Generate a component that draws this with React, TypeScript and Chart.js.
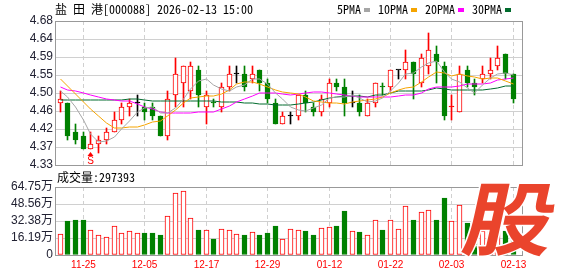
import React, { useEffect, useRef } from 'react';
import { Chart, LinearScale, registerables } from 'chart.js';

Chart.register(...registerables);

// linear scale that snaps pixels so 1px strokes stay crisp
class PixelLinearScale extends (LinearScale as any) {
  getPixelForValue(value: number) {
    const p = super.getPixelForValue(value);
    const off = this.axis === 'x' ? 0.5 : 0;
    return Math.round(p - off) + off;
  }
}
(PixelLinearScale as any).id = 'pixelLinear';
(PixelLinearScale as any).defaults = (LinearScale as any).defaults;
Chart.register(PixelLinearScale as any);

const title = '盐 田 港[000088] 2026-02-13 15:00';
const volumeTitle = '成交量:297393';

const dates = ['11-20','11-21','11-24','11-25','11-26','11-27','11-28','12-01','12-02','12-03','12-04','12-05','12-08','12-09','12-10','12-11','12-12','12-15','12-16','12-17','12-18','12-19','12-22','12-23','12-24','12-25','12-26','12-29','12-30','12-31','01-05','01-06','01-07','01-08','01-09','01-12','01-13','01-14','01-15','01-16','01-19','01-20','01-21','01-22','01-23','01-26','01-27','01-28','01-29','01-30','02-02','02-03','02-04','02-05','02-06','02-09','02-10','02-11','02-12','02-13'];

const opens = [4.48,4.48,4.41,4.40,4.37,4.38,4.39,4.41,4.44,4.47, 4.48,4.47,4.47,4.45,4.40,4.50,4.53,4.51,4.56,4.47, 4.48,4.47,4.52,4.55,4.55,4.54,4.56,4.53,4.48,4.43, 4.45,4.45,4.50,4.47,4.46,4.48,4.53,4.52,4.48,4.48, 4.45,4.48,4.52,4.52,4.56,4.56,4.58,4.53,4.57,4.60, 4.57,4.47,4.46,4.56,4.53,4.54,4.55,4.57,4.60,4.55];
const highs = [4.51,4.48,4.43,4.41,4.41,4.40,4.42,4.46,4.48,4.49, 4.50,4.48,4.48,4.45,4.51,4.59,4.57,4.58,4.57,4.51, 4.49,4.53,4.57,4.57,4.57,4.57,4.56,4.54,4.49,4.46, 4.46,4.50,4.51,4.48,4.50,4.54,4.54,4.54,4.51,4.50, 4.49,4.53,4.53,4.56,4.56,4.61,4.58,4.60,4.65,4.62, 4.58,4.50,4.57,4.57,4.54,4.57,4.59,4.62,4.60,4.55];
const lows = [4.46,4.39,4.38,4.37,4.37,4.36,4.38,4.41,4.43,4.45, 4.45,4.44,4.44,4.40,4.39,4.47,4.47,4.49,4.47,4.43, 4.47,4.46,4.51,4.53,4.51,4.53,4.51,4.48,4.43,4.43, 4.43,4.44,4.46,4.45,4.45,4.47,4.51,4.45,4.47,4.45, 4.45,4.47,4.50,4.51,4.54,4.54,4.49,4.52,4.55,4.53, 4.44,4.44,4.46,4.52,4.50,4.53,4.54,4.56,4.54,4.48];
const closes = [4.49,4.40,4.39,4.37,4.38,4.39,4.41,4.44,4.47,4.48, 4.48,4.46,4.45,4.40,4.49,4.55,4.57,4.57,4.50,4.50, 4.48,4.52,4.55,4.55,4.52,4.55,4.53,4.49,4.43,4.45, 4.45,4.50,4.48,4.46,4.49,4.53,4.52,4.48,4.48,4.46, 4.48,4.53,4.52,4.56,4.56,4.58,4.55,4.59,4.61,4.58, 4.45,4.47,4.55,4.53,4.52,4.55,4.56,4.59,4.55,4.49];

const volumes = [200000,325000,334000,334000,236000,187000,171000,274000,207000,226000, 207000,210000,210000,190000,371000,593000,613000,352000,239000,236000, 152000,245000,236000,197000,190000,216000,190000,210000,277000,152000, 245000,236000,229000,190000,255000,265000,277000,422000,226000,216000, 187000,332000,236000,332000,245000,468000,335000,410000,429000,335000, 538000,323000,477000,306000,250000,229000,260000,300000,229000,297393];

const ma5 = [4.511,4.495,4.47,4.44,4.406,4.386,4.388,4.398,4.418,4.438, 4.458,4.468,4.47,4.456,4.456,4.468,4.49,4.514,4.534,4.538, 4.524,4.514,4.51,4.52,4.524,4.538,4.54,4.528,4.504,4.49, 4.47,4.464,4.462,4.468,4.476,4.492,4.496,4.496,4.50,4.494, 4.484,4.486,4.494,4.51,4.53,4.55,4.554,4.568,4.578,4.582, 4.556,4.54,4.532,4.516,4.504,4.524,4.542,4.55,4.554,4.548];
const ma10 = [4.54,4.521,4.503,4.482,4.466,4.448,4.432,4.42,4.42,4.422, 4.422,4.428,4.434,4.437,4.448,4.464,4.48,4.493,4.496,4.497, 4.497,4.503,4.513,4.528,4.531,4.531,4.527,4.519,4.512,4.507, 4.504,4.502,4.495,4.486,4.483,4.481,4.48,4.479,4.484,4.485, 4.488,4.491,4.495,4.505,4.512,4.517,4.52,4.531,4.544,4.556, 4.553,4.547,4.55,4.547,4.543,4.54,4.541,4.541,4.535,4.526];
const ma20 = [4.52,4.513,4.511,4.505,4.50,4.495,4.49,4.487,4.485,4.485, 4.479,4.471,4.466,4.46,4.456,4.456,4.456,4.457,4.458,4.46, 4.46,4.466,4.474,4.483,4.49,4.498,4.504,4.506,4.504,4.502, 4.50,4.502,4.504,4.507,4.507,4.506,4.503,4.499,4.498,4.496, 4.496,4.496,4.495,4.495,4.497,4.499,4.50,4.505,4.514,4.52, 4.52,4.519,4.522,4.526,4.527,4.528,4.53,4.536,4.539,4.541];
const ma30 = [4.487,4.487,4.487,4.487,4.487,4.487,4.487,4.487,4.488,4.49, 4.49,4.487,4.486,4.486,4.486,4.486,4.486,4.486,4.486,4.486, 4.485,4.484,4.483,4.482,4.481,4.48,4.479,4.478,4.477,4.476, 4.475,4.478,4.481,4.484,4.488,4.492,4.496,4.497,4.498,4.497, 4.496,4.499,4.501,4.506,4.509,4.51,4.509,4.51,4.513,4.516, 4.515,4.513,4.513,4.513,4.513,4.513,4.514,4.517,4.521,4.522];

const maNames = ['5PMA', '10PMA', '20PMA', '30PMA'];
const maSeries = [ma5, ma10, ma20, ma30];
const maColors = ['#a6a6a6', '#f5a400', '#ff00ff', '#006b2d'];

const priceTickValues = [4.33, 4.37375, 4.4175, 4.46125, 4.505, 4.54875, 4.5925, 4.63625, 4.68];
const priceTickLabels = ['4.33', '4.37', '4.42', '4.46', '4.50', '4.55', '4.59', '4.64', '4.68'];
const volTickValues = [0, 161875, 323750, 485625, 647500];
const volTickLabels = ['0', '16.19万', '32.38万', '48.56万', '64.75万'];
const dateTickIndex = [3, 11, 19, 27, 35, 43, 51, 59];
const signals = [{ index: 4, label: 'S' }];

const RED = '#ff0000';
const GREEN = '#008000';
const BLACK = '#000000';
const GRID = '#d0d0d0';
const FRAME = '#999999';
const LABEL = '#222233';
const MONO = "12px 'Noto Sans Mono CJK SC', 'Noto Sans CJK SC', monospace";
const AXISFONT = "'Liberation Sans', 'Noto Sans CJK SC', sans-serif";
const X_MIN = -0.555;
const X_MAX = 60.13;

function candleColor(i: number) {
  const o = opens[i], c = closes[i];
  if (c > o) return RED;
  if (c < o) return GREEN;
  const p = i > 0 ? closes[i - 1] : c;
  if (c > p) return RED;
  if (c < p) return GREEN;
  return BLACK;
}
function volumeColor(i: number) {
  const o = opens[i], c = closes[i];
  if (c > o) return RED;
  if (c < o) return GREEN;
  const p = i > 0 ? closes[i - 1] : c;
  return c < p ? GREEN : RED;
}

function xScaleBase(showLabels: boolean, height: number) {
  return {
    type: 'pixelLinear',
    min: X_MIN,
    max: X_MAX,
    offset: false,
    afterBuildTicks: (s: any) => { s.ticks = dateTickIndex.map((v) => ({ value: v })); },
    afterFit: (s: any) => { s.height = height; },
    grid: { color: GRID, drawTicks: false, lineWidth: 1, offset: false },
    border: { display: false, dash: [4, 3] },
    ticks: {
      display: showLabels,
      autoSkip: false,
      maxRotation: 0,
      padding: 4,
      color: RED,
      font: { family: AXISFONT, size: 10 },
      callback: (v: any) => dates[v] ?? '',
    },
  };
}

function drawFrame(chart: any) {
  const { ctx, chartArea: a } = chart;
  ctx.save();
  ctx.strokeStyle = FRAME;
  ctx.lineWidth = 1;
  ctx.strokeRect(a.left - 0.5, a.top + 0.5, a.right - a.left + 1, a.bottom - a.top);
  ctx.restore();
}

const priceDecor = {
  id: 'priceDecor',
  afterDraw(chart: any) {
    const ctx = chart.ctx;
    drawFrame(chart);
    ctx.save();
    ctx.fillStyle = '#000';
    ctx.font = MONO;
    ctx.textBaseline = 'middle';
    ctx.textAlign = 'left';
    ctx.fillText(title, 55, 9.5);
    // legend
    let x = 337;
    maNames.forEach((name, k) => {
      ctx.fillStyle = '#000';
      ctx.fillText(name, x, 9.5);
      const w = ctx.measureText(name).width;
      ctx.fillStyle = maColors[k];
      ctx.fillRect(Math.round(x + w + 3), 8, 6, 4);
      x = Math.round(x + w + 3 + 6 + 8);
    });
    // signals
    const xs = chart.scales.x, ys = chart.scales.y;
    signals.forEach((s) => {
      const cx = xs.getPixelForValue(s.index);
      const yl = ys.getPixelForValue(lows[s.index]);
      ctx.fillStyle = RED;
      ctx.beginPath();
      ctx.moveTo(cx, yl + 3);
      ctx.lineTo(cx - 3, yl + 7);
      ctx.lineTo(cx + 3, yl + 7);
      ctx.closePath();
      ctx.fill();
      ctx.font = `10px ${AXISFONT}`;
      ctx.textAlign = 'center';
      ctx.textBaseline = 'middle';
      ctx.fillText(s.label, cx, yl + 12);
    });
    ctx.restore();
  },
};

const volumeDecor = {
  id: 'volumeDecor',
  afterDraw(chart: any) {
    const ctx = chart.ctx;
    drawFrame(chart);
    ctx.save();
    ctx.fillStyle = '#000';
    ctx.font = MONO;
    ctx.textBaseline = 'middle';
    ctx.textAlign = 'left';
    ctx.fillText(volumeTitle, 57, 177);
    // watermark logo
    ctx.translate(511, 219);
    ctx.transform(1.12, 0, -0.22, 1, 0, 0);
    ctx.font = "bold 80px 'Noto Sans CJK SC', sans-serif";
    ctx.textAlign = 'center';
    ctx.textBaseline = 'middle';
    ctx.lineWidth = 3;
    ctx.strokeStyle = '#ffffff';
    ctx.strokeText('股', 0, 0);
    ctx.fillStyle = '#ea442c';
    ctx.fillText('股', 0, 0);
    ctx.restore();
  },
};

export default function App() {
  const priceRef = useRef<HTMLCanvasElement | null>(null);
  const volRef = useRef<HTMLCanvasElement | null>(null);

  useEffect(() => {
    const n = dates.length;
    const idx = Array.from({ length: n }, (_, i) => i);
    const colors = idx.map(candleColor);
    const bodyFill = idx.map((i) => (closes[i] > opens[i] ? '#ffffff' : colors[i]));

    const priceChart = new Chart(priceRef.current as HTMLCanvasElement, {
      type: 'bar',
      data: {
        datasets: [
          ...maSeries.map((s, k) => ({
            type: 'line' as const,
            data: s.map((v, i) => ({ x: i, y: v })),
            borderColor: maColors[k],
            borderWidth: 1,
            pointRadius: 0,
            tension: 0,
            order: 0,
          })),
          {
            type: 'bar' as const,
            data: idx.map((i) => ({ x: i, y: [opens[i], closes[i]] })),
            backgroundColor: bodyFill,
            borderColor: colors,
            borderWidth: 1,
            borderSkipped: false,
            barThickness: 5,
            minBarLength: 1,
            grouped: false,
            order: 1,
          },
          {
            type: 'bar' as const,
            data: idx.map((i) => ({ x: i, y: [lows[i], highs[i]] })),
            backgroundColor: colors,
            borderWidth: 0,
            barThickness: 1,
            grouped: false,
            order: 2,
          },
        ],
      } as any,
      options: {
        animation: false,
        responsive: false,
        devicePixelRatio: 1,
        events: [],
        layout: { padding: { left: 0, right: 56, top: 21, bottom: 111 } },
        plugins: { legend: { display: false }, tooltip: { enabled: false } },
        scales: {
          x: xScaleBase(false, 0),
          y: {
            type: 'pixelLinear',
            min: 4.33,
            max: 4.68,
            afterBuildTicks: (s: any) => { s.ticks = priceTickValues.map((v) => ({ value: v })); },
            afterFit: (s: any) => { s.width = 56; },
            grid: { color: GRID, drawTicks: false },
            border: { display: false },
            ticks: {
              padding: 3,
              autoSkip: false,
              color: LABEL,
              font: { family: AXISFONT, size: 12 },
              callback: (_v: any, i: number) => priceTickLabels[i],
            },
          },
        } as any,
      },
      plugins: [priceDecor],
    });

    const volChart = new Chart(volRef.current as HTMLCanvasElement, {
      type: 'bar',
      data: {
        datasets: [
          {
            data: idx.map((i) => ({ x: i, y: volumes[i] })),
            backgroundColor: idx.map((i) => (volumeColor(i) === RED ? '#ffffff' : GREEN)),
            borderColor: idx.map(volumeColor),
            borderWidth: 1,
            borderSkipped: false,
            barThickness: 5,
            grouped: false,
          },
        ],
      } as any,
      options: {
        animation: false,
        responsive: false,
        devicePixelRatio: 1,
        events: [],
        layout: { padding: { left: 0, right: 56, top: 187, bottom: 0 } },
        plugins: { legend: { display: false }, tooltip: { enabled: false } },
        scales: {
          x: xScaleBase(true, 21),
          y: {
            type: 'pixelLinear',
            min: 0,
            max: 647500,
            afterBuildTicks: (s: any) => { s.ticks = volTickValues.map((v) => ({ value: v })); },
            afterFit: (s: any) => { s.width = 56; },
            grid: { color: GRID, drawTicks: false },
            border: { display: false },
            ticks: {
              padding: 3,
              autoSkip: false,
              color: LABEL,
              font: { family: AXISFONT, size: 12 },
              callback: (_v: any, i: number) => volTickLabels[i],
            },
          },
        } as any,
      },
      plugins: [volumeDecor],
    });

    return () => {
      priceChart.destroy();
      volChart.destroy();
    };
  }, []);

  return (
    <div style={{ position: 'fixed', left: 0, top: 0, width: 578, height: 276, background: '#fff' }}>
      <canvas ref={priceRef} width={578} height={276} style={{ position: 'absolute', left: 0, top: 0, width: 578, height: 276 }} />
      <canvas ref={volRef} width={578} height={276} style={{ position: 'absolute', left: 0, top: 0, width: 578, height: 276 }} />
    </div>
  );
}
